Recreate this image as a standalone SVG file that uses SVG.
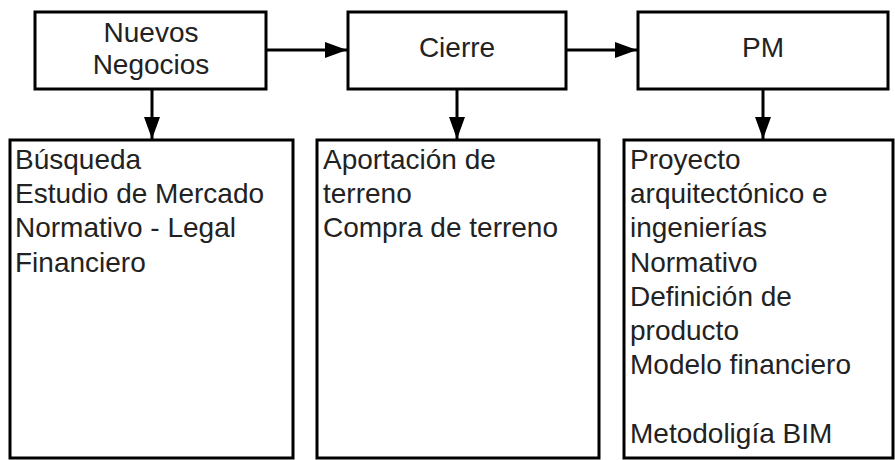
<svg xmlns="http://www.w3.org/2000/svg" width="895" height="460" viewBox="0 0 895 460">
<defs>
<style>
.box{fill:#fff;stroke:#000;stroke-width:3}
.t{font-family:"Liberation Sans",Arial,sans-serif;font-size:28px;fill:#222}
.c{text-anchor:middle}
.edge{stroke:#000;stroke-width:3;fill:none}
</style>
<marker id="ah" markerWidth="22" markerHeight="16" refX="22" refY="8" orient="auto" markerUnits="userSpaceOnUse">
<path d="M0,0 L22,8 L0,16 Z" fill="#000"/>
</marker>
</defs>
<rect width="895" height="460" fill="#fff"/>
<g id="connectors">
<line class="edge" x1="266" y1="50" x2="347" y2="50" marker-end="url(#ah)"/>
<line class="edge" x1="566" y1="50" x2="637" y2="50" marker-end="url(#ah)"/>
<line class="edge" x1="152" y1="89" x2="152" y2="139" marker-end="url(#ah)"/>
<line class="edge" x1="457" y1="89" x2="457" y2="139" marker-end="url(#ah)"/>
<line class="edge" x1="763" y1="89" x2="763" y2="139" marker-end="url(#ah)"/>
</g>
<g id="nuevos-negocios">
<rect class="box" x="35" y="12" width="231" height="77"/>
<text class="t c" x="151" y="42">Nuevos</text>
<text class="t c" x="151" y="74">Negocios</text>
</g>
<g id="cierre">
<rect class="box" x="348" y="12" width="218" height="77"/>
<text class="t c" x="457" y="57">Cierre</text>
</g>
<g id="pm">
<rect class="box" x="638" y="12" width="250" height="77"/>
<text class="t c" x="763" y="57">PM</text>
</g>
<g id="detalle-nuevos-negocios">
<rect class="box" x="10" y="140" width="283" height="318"/>
<text class="t" x="15" y="169">Búsqueda</text>
<text class="t" x="15" y="203">Estudio de Mercado</text>
<text class="t" x="15" y="237">Normativo - Legal</text>
<text class="t" x="15" y="272">Financiero</text>
</g>
<g id="detalle-cierre">
<rect class="box" x="317" y="140" width="282" height="318"/>
<text class="t" x="323" y="169">Aportación de</text>
<text class="t" x="323" y="203">terreno</text>
<text class="t" x="323" y="237">Compra de terreno</text>
</g>
<g id="detalle-pm">
<rect class="box" x="624" y="140" width="269" height="318"/>
<text class="t" x="630" y="169">Proyecto</text>
<text class="t" x="630" y="203">arquitectónico e</text>
<text class="t" x="630" y="237">ingenierías</text>
<text class="t" x="630" y="272">Normativo</text>
<text class="t" x="630" y="306">Definición de</text>
<text class="t" x="630" y="340">producto</text>
<text class="t" x="630" y="374">Modelo financiero</text>
<text class="t" x="630" y="443">Metodoligía BIM</text>
</g>
</svg>
